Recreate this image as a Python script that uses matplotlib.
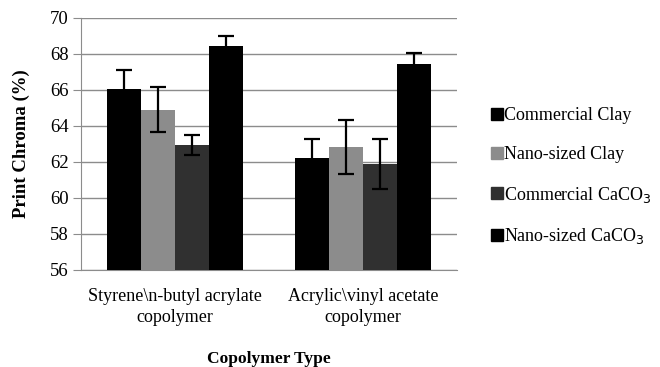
import numpy as np
import matplotlib.pyplot as plt
from matplotlib.lines import Line2D

plt.rcParams['font.family'] = ['Liberation Serif', 'DejaVu Serif']

copolymers = ['Styrene\\n-butyl acrylate\ncopolymer', 'Acrylic\\vinyl acetate\ncopolymer']
fillers = ['Commercial Clay', 'Nano-sized Clay', 'Commercial CaCO$_3$', 'Nano-sized CaCO$_3$']
chroma = [
    [66.05, 62.25],
    [64.9, 62.85],
    [62.95, 61.9],
    [68.45, 67.45],
]
chroma_err = [
    [1.05, 1.05],
    [1.25, 1.5],
    [0.55, 1.4],
    [0.55, 0.6],
]
colors = ['#000000', '#8c8c8c', '#303030', '#000000']

fig = plt.figure(figsize=(6.6, 3.67), dpi=100)
ax = fig.add_axes([81 / 660, 1 - 270 / 367, 376 / 660, 252 / 367])

x = np.arange(len(copolymers))
width = 0.181
for i in range(len(fillers)):
    ax.bar(x + (i - 1.5) * width, chroma[i], width, bottom=0, color=colors[i],
           yerr=chroma_err[i], capsize=5.5,
           error_kw=dict(elinewidth=1.6, capthick=1.6, ecolor='black'), zorder=3)

ax.set_ylim(56, 70)
ax.set_xlim(-0.5, 1.5)
ax.set_yticks(np.arange(56, 71, 2))
ax.yaxis.grid(True, color='#8c8c8c', linewidth=1.0, zorder=0)
ax.set_axisbelow(True)
ax.set_xticks(x)
ax.set_xticklabels(copolymers, fontsize=13, linespacing=1.3)
ax.tick_params(axis='x', length=0, pad=13)
ax.tick_params(axis='y', length=6, color='#8c8c8c', labelsize=13.5, pad=3)
for s in ['top', 'right']:
    ax.spines[s].set_visible(False)
ax.spines['left'].set_color('#8c8c8c')
ax.spines['bottom'].set_color('#8c8c8c')

ax.set_ylabel('Print Chroma (%)', fontsize=13.5, fontweight='bold', labelpad=14)
ax.set_xlabel('Copolymer Type', fontsize=12.5, fontweight='bold', labelpad=18)

handles = [Line2D([], [], marker='s', linestyle='none', markersize=8,
                  markerfacecolor=c, markeredgecolor=c) for c in colors]
fig.legend(handles, fillers, loc='upper left', bbox_to_anchor=(484 / 660, 1 - 100 / 367),
           frameon=False, fontsize=13, handlelength=0.6, handletextpad=0.1,
           labelspacing=1.2, borderaxespad=0)

fig.savefig('out.png', dpi=100)
